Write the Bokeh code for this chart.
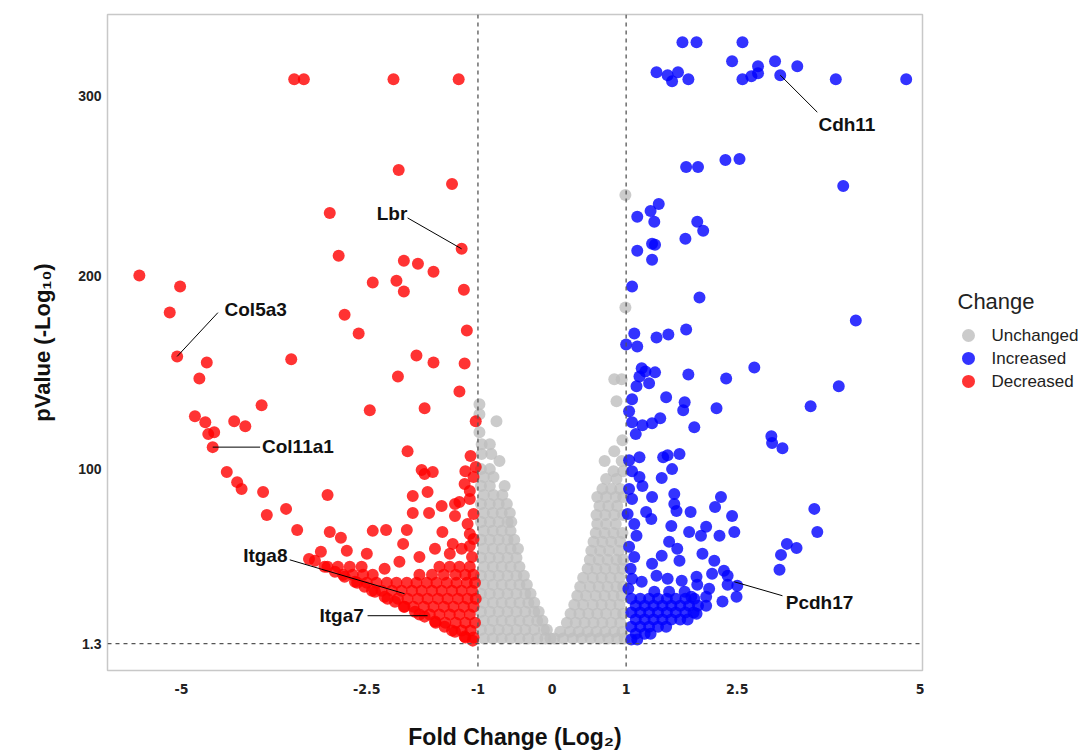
from bokeh.plotting import figure
from bokeh.models import Span, FixedTicker, Range1d
from bokeh.layouts import row
from bokeh.embed import file_html
from bokeh.resources import INLINE
from bokeh.core.properties import value

# ---------------- data (log2 fold change, -log10 p) ----------------
decreased = [
    (-3.48, 309.2), (-3.35, 309.2), (-2.14, 309.2), (-1.26, 309.2), (-2.07, 259.8), (-1.35, 252.1),
    (-3.00, 236.3), (-1.22, 216.7), (-2.88, 212.9), (-2.00, 210.2), (-1.81, 208.6), (-1.60, 204.2),
    (-5.57, 202.1), (-5.02, 196.1), (-5.16, 182.0), (-5.06, 158.0), (-4.66, 154.7), (-4.76, 146.0),
    (-3.52, 156.4), (-3.92, 131.3), (-4.82, 125.3), (-4.68, 122.1), (-4.56, 116.6), (-4.64, 115.6),
    (-4.58, 108.5), (-4.29, 122.6), (-4.14, 119.9), (-4.39, 94.9), (-4.25, 89.4), (-4.19, 85.6),
    (-2.42, 198.3), (-2.10, 199.3), (-2.00, 193.4), (-1.19, 194.4), (-2.80, 180.8), (-2.61, 170.5),
    (-1.15, 172.1), (-1.83, 158.5), (-1.60, 154.7), (-1.18, 154.2), (-2.08, 147.1), (-1.25, 138.9),
    (-2.46, 128.6), (-1.72, 129.7), (-1.03, 122.6), (-1.95, 106.3), (-1.10, 103.6), (-1.76, 96.0),
    (-1.72, 93.8), (-1.61, 94.9), (-1.17, 95.4), (-1.03, 97.6), (-3.90, 84.0), (-3.03, 82.4),
    (-3.85, 71.5), (-3.59, 74.8), (-3.44, 63.3), (-3.00, 62.2), (-2.85, 59.0), (-2.42, 62.8),
    (-2.24, 63.3), (-1.96, 63.3), (-2.01, 55.7), (-1.88, 81.8), (-1.68, 84.0), (-1.49, 76.4),
    (-1.88, 72.6), (-1.66, 72.6), (-1.31, 70.9), (-1.25, 78.6), (-1.11, 84.5), (-1.48, 62.2),
    (-1.34, 55.7), (-1.11, 61.1), (-1.11, 54.6), (-3.12, 51.4), (-3.28, 47.5), (-2.77, 51.9),
    (-2.50, 50.3),
    (-1.11, 80.2), (-1.06, 72.0), (-1.14, 66.6), (-1.06, 58.4), (-1.22, 53.0), (-1.08, 48.6),
    (-1.38, 50.3), (-1.58, 53.0), (-1.79, 48.6), (-2.06, 45.9), (-2.26, 42.1), (-1.31, 77.5),
    (-1.18, 88.4), (-1.06, 92.2),
    (-3.20, 46.5), (-3.07, 43.2), (-2.93, 40.5), (-2.80, 37.8), (-2.66, 35.0), (-2.53, 32.3),
    (-2.39, 29.6), (-2.26, 26.9), (-2.12, 24.1), (-1.99, 21.4), (-1.85, 18.7), (-1.72, 16.0),
    (-1.58, 13.3), (-1.45, 10.5), (-1.31, 7.8), (-1.18, 5.1), (-1.07, 2.9),
    (-3.03, 43.2), (-2.89, 43.2), (-2.73, 43.2), (-2.57, 43.2), (-1.52, 43.2), (-1.38, 43.2),
    (-1.25, 43.2), (-1.11, 43.2),
    (-2.82, 38.8), (-2.69, 38.8), (-2.55, 38.8), (-2.42, 38.8), (-1.79, 38.8), (-1.62, 38.8),
    (-1.46, 38.8), (-1.30, 38.8), (-1.17, 38.8), (-1.06, 38.8),
    (-2.63, 34.5), (-2.50, 34.5), (-2.37, 34.5), (-2.23, 34.5), (-2.10, 34.5), (-1.96, 34.5),
    (-1.83, 34.5), (-1.69, 34.5), (-1.56, 34.5), (-1.42, 34.5), (-1.29, 34.5), (-1.15, 34.5),
    (-1.04, 34.5),
    (-2.43, 30.1), (-2.30, 30.1), (-2.16, 30.1), (-2.03, 30.1), (-1.89, 30.1), (-1.76, 30.1),
    (-1.62, 30.1), (-1.49, 30.1), (-1.35, 30.1), (-1.22, 30.1), (-1.08, 30.1),
    (-2.22, 25.8), (-2.08, 25.8), (-1.95, 25.8), (-1.81, 25.8), (-1.68, 25.8), (-1.54, 25.8),
    (-1.41, 25.8), (-1.27, 25.8), (-1.14, 25.8), (-1.03, 25.8),
    (-2.00, 21.4), (-1.87, 21.4), (-1.73, 21.4), (-1.60, 21.4), (-1.46, 21.4), (-1.33, 21.4),
    (-1.19, 21.4), (-1.06, 21.4),
    (-1.79, 17.1), (-1.65, 17.1), (-1.52, 17.1), (-1.38, 17.1), (-1.25, 17.1), (-1.11, 17.1),
    (-1.57, 12.7), (-1.44, 12.7), (-1.30, 12.7), (-1.17, 12.7), (-1.04, 12.7),
    (-1.35, 8.4), (-1.22, 8.4), (-1.10, 8.4),
    (-1.17, 4.6), (-1.06, 4.6),
]

increased = [
    (1.76, 329.4), (1.95, 329.4), (2.57, 329.4), (2.43, 319.1), (2.78, 316.3), (3.01, 319.1),
    (3.31, 316.3), (1.41, 313.1), (1.56, 311.5), (1.70, 313.1), (1.62, 308.2), (1.84, 309.2),
    (2.57, 309.2), (2.69, 310.9), (2.78, 312.5), (3.08, 311.5), (3.83, 309.2), (4.78, 309.2),
    (1.81, 261.4), (1.97, 261.4), (2.34, 265.2), (2.53, 265.7), (3.93, 251.0), (1.44, 241.2),
    (1.33, 237.4), (1.15, 234.2), (1.38, 231.5), (1.96, 231.5), (2.04, 226.6), (1.80, 222.2),
    (1.35, 219.5), (1.39, 218.9), (1.15, 215.7), (1.35, 210.8), (1.08, 196.1), (1.99, 190.1),
    (4.10, 177.6), (1.11, 170.5), (1.41, 168.3), (1.57, 170.0), (1.81, 172.7), (1.00, 164.5),
    (1.15, 163.4), (1.21, 151.5), (1.26, 149.8), (1.39, 149.3), (1.18, 147.1), (1.14, 141.7),
    (1.31, 143.3), (1.84, 148.2), (2.35, 146.0), (2.73, 152.0), (3.87, 141.7), (1.08, 134.6),
    (1.04, 128.1), (1.54, 135.7), (1.79, 133.0), (1.77, 128.6), (2.22, 129.7), (3.49, 130.8),
    (1.08, 122.1), (1.22, 120.5), (1.35, 121.5), (1.46, 124.3), (1.92, 119.4), (1.13, 115.6),
    (2.96, 114.5), (2.97, 110.7), (3.11, 107.9), (1.04, 101.4), (1.18, 103.0), (1.50, 103.0),
    (1.56, 104.1), (1.72, 104.7), (1.62, 96.5), (1.08, 95.4), (1.18, 92.2), (1.48, 91.6),
    (1.22, 87.3), (1.08, 80.2), (1.35, 81.3), (1.65, 82.9), (1.65, 77.5), (1.68, 73.7),
    (1.87, 73.1), (2.20, 75.8), (2.28, 81.3), (2.43, 70.9), (1.27, 73.1), (1.34, 69.3),
    (1.11, 66.6), (1.61, 65.5), (1.85, 62.2), (2.08, 65.0), (2.01, 60.1), (2.26, 60.1),
    (2.46, 62.2), (1.14, 60.1), (3.54, 74.8), (3.58, 62.2), (3.17, 55.7), (3.30, 53.5),
    (3.09, 49.7), (3.07, 41.6), (1.58, 56.8), (1.69, 53.0), (1.48, 49.2), (1.35, 44.8),
    (1.11, 48.6), (1.72, 46.5), (2.03, 50.3), (2.19, 46.5), (2.32, 41.0), (2.16, 39.4),
    (1.95, 37.8), (2.37, 38.3), (2.50, 32.9), (2.37, 33.4), (2.12, 31.2), (1.96, 33.4),
    (1.75, 35.6), (1.56, 36.7), (1.41, 38.3), (1.21, 35.0), (1.08, 36.7), (1.38, 29.6),
    (1.58, 29.6), (1.79, 29.6), (1.88, 26.9), (2.08, 26.9), (2.30, 24.2), (2.49, 26.9),
    (2.08, 22.0), (1.95, 17.6),
    (1.04, 85.6), (1.02, 72.0), (1.04, 54.1), (1.06, 42.1), (1.03, 31.2),
    (1.07, 25.8), (1.19, 25.8), (1.31, 25.8), (1.43, 25.8), (1.55, 25.8), (1.67, 25.8),
    (1.80, 25.8), (1.92, 25.8),
    (1.13, 22.0), (1.25, 22.0), (1.37, 22.0), (1.49, 22.0), (1.61, 22.0), (1.73, 22.0),
    (1.85, 22.0), (1.97, 22.0),
    (1.07, 18.2), (1.19, 18.2), (1.31, 18.2), (1.43, 18.2), (1.55, 18.2), (1.67, 18.2),
    (1.80, 18.2), (1.91, 18.2),
    (1.13, 14.4), (1.25, 14.4), (1.37, 14.4), (1.49, 14.4), (1.61, 14.4), (1.73, 14.4),
    (1.83, 14.4),
    (1.07, 10.5), (1.19, 10.5), (1.31, 10.5), (1.43, 10.5), (1.54, 10.5),
    (1.13, 6.7), (1.25, 6.7), (1.33, 6.7),
    (1.07, 3.5), (1.15, 3.5),
]

unchanged = [
    (-0.98, 131.9), (-0.98, 126.4), (-0.75, 122.6), (-0.98, 116.6),
    (-0.95, 110.1), (-0.84, 110.1), (-0.95, 104.7), (-0.82, 104.7), (-0.71, 100.9),
    (-0.96, 96.5), (-0.84, 96.5), (-0.92, 92.2), (-0.79, 92.2),
    (-0.96, 87.3), (-0.84, 87.3), (-0.64, 87.3), (-0.92, 82.4), (-0.79, 82.4), (-0.67, 82.4),
    (-0.96, 77.5), (-0.84, 77.5), (-0.72, 77.5), (-0.61, 77.5),
    (-0.92, 72.6), (-0.80, 72.6), (-0.68, 72.6), (-0.57, 72.6),
    (-0.96, 67.7), (-0.84, 67.7), (-0.72, 67.7), (-0.60, 67.7), (-0.55, 67.7),
    (-0.92, 62.8), (-0.80, 62.8), (-0.68, 62.8), (-0.56, 62.8),
    (-0.96, 57.9), (-0.84, 57.9), (-0.72, 57.9), (-0.60, 57.9), (-0.51, 57.9),
    (-0.92, 53.0), (-0.80, 53.0), (-0.68, 53.0), (-0.56, 53.0), (-0.46, 53.0),
    (-0.96, 48.1), (-0.84, 48.1), (-0.72, 48.1), (-0.60, 48.1), (-0.48, 48.1),
    (-0.92, 43.2), (-0.80, 43.2), (-0.68, 43.2), (-0.56, 43.2), (-0.44, 43.2),
    (-0.96, 38.3), (-0.84, 38.3), (-0.72, 38.3), (-0.60, 38.3), (-0.48, 38.3), (-0.38, 38.3),
    (-0.92, 33.4), (-0.80, 33.4), (-0.68, 33.4), (-0.56, 33.4), (-0.44, 33.4), (-0.34, 33.4),
    (-0.96, 28.5), (-0.84, 28.5), (-0.72, 28.5), (-0.60, 28.5), (-0.48, 28.5), (-0.36, 28.5),
    (-0.29, 28.5),
    (-0.92, 23.6), (-0.80, 23.6), (-0.68, 23.6), (-0.56, 23.6), (-0.44, 23.6), (-0.32, 23.6),
    (-0.24, 23.6),
    (-0.96, 18.7), (-0.84, 18.7), (-0.72, 18.7), (-0.60, 18.7), (-0.48, 18.7), (-0.36, 18.7),
    (-0.24, 18.7), (-0.18, 18.7),
    (-0.92, 13.8), (-0.80, 13.8), (-0.68, 13.8), (-0.56, 13.8), (-0.44, 13.8), (-0.32, 13.8),
    (-0.20, 13.8), (-0.13, 13.8),
    (-0.96, 8.9), (-0.84, 8.9), (-0.72, 8.9), (-0.60, 8.9), (-0.48, 8.9), (-0.36, 8.9),
    (-0.24, 8.9), (-0.11, 8.9), (-0.07, 8.9),
    (-0.92, 4.0), (-0.80, 4.0), (-0.68, 4.0), (-0.56, 4.0), (-0.44, 4.0), (-0.32, 4.0),
    (-0.20, 4.0), (-0.09, 4.0), (-0.02, 4.0),
    (0.99, 246.1), (0.99, 184.7), (0.84, 145.5), (0.94, 145.5), (0.87, 133.5), (0.95, 112.3),
    (0.84, 106.3), (0.71, 100.9), (0.94, 100.9), (0.83, 95.4), (0.96, 95.4),
    (0.73, 91.1), (0.87, 91.1), (0.68, 85.6), (0.80, 85.6), (0.92, 85.6),
    (0.61, 81.3), (0.73, 81.3), (0.86, 81.3), (0.96, 81.3),
    (0.64, 76.4), (0.76, 76.4), (0.88, 76.4),
    (0.60, 71.5), (0.72, 71.5), (0.84, 71.5), (0.96, 71.5),
    (0.61, 66.6), (0.73, 66.6), (0.86, 66.6),
    (0.59, 61.7), (0.71, 61.7), (0.83, 61.7), (0.95, 61.7),
    (0.56, 56.8), (0.68, 56.8), (0.80, 56.8), (0.92, 56.8),
    (0.53, 51.9), (0.65, 51.9), (0.77, 51.9), (0.90, 51.9),
    (0.51, 47.0), (0.63, 47.0), (0.75, 47.0), (0.87, 47.0), (0.96, 47.0),
    (0.48, 42.1), (0.60, 42.1), (0.72, 42.1), (0.84, 42.1), (0.95, 42.1),
    (0.42, 37.2), (0.55, 37.2), (0.67, 37.2), (0.79, 37.2), (0.91, 37.2),
    (0.38, 32.3), (0.51, 32.3), (0.63, 32.3), (0.75, 32.3), (0.87, 32.3), (0.96, 32.3),
    (0.34, 27.4), (0.46, 27.4), (0.59, 27.4), (0.71, 27.4), (0.83, 27.4), (0.94, 27.4),
    (0.30, 22.5), (0.42, 22.5), (0.55, 22.5), (0.67, 22.5), (0.79, 22.5), (0.91, 22.5),
    (0.25, 17.6), (0.37, 17.6), (0.49, 17.6), (0.61, 17.6), (0.73, 17.6), (0.86, 17.6),
    (0.96, 17.6),
    (0.20, 12.7), (0.32, 12.7), (0.44, 12.7), (0.56, 12.7), (0.68, 12.7), (0.80, 12.7),
    (0.92, 12.7),
    (0.11, 7.8), (0.24, 7.8), (0.36, 7.8), (0.48, 7.8), (0.60, 7.8), (0.72, 7.8),
    (0.84, 7.8), (0.95, 7.8),
    (0.03, 4.0), (0.15, 4.0), (0.28, 4.0), (0.40, 4.0), (0.52, 4.0), (0.64, 4.0),
    (0.76, 4.0), (0.88, 4.0), (0.98, 4.0),
]

genes = ["Cdh11", "Lbr", "Col5a3", "Col11a1", "Itga8", "Itga7", "Pcdh17"]
gene_fc = [3.08, -1.22, -5.06, -4.58, -1.99, -1.68, 2.46]
gene_p = [311.5, 216.7, 158.0, 108.5, 28.5, 16.5, 35.0]

x_ticks = [-5, -2.5, -1, 0, 1, 2.5, 5]
x_tick_labels = ["-5", "-2.5", "-1", "0", "1", "2.5", "5"]
y_tick_labels = ["1.3", "100", "200", "300"]
groups = ["Unchanged", "Increased", "Decreased"]
group_colors = ["#bebebe", "#0000ff", "#ff0000"]
fc_cut = 1
p_cut = 1.3

H = 752
LW = 158
TOP, BOTTOM = 14, 80

# ---------------- main figure ----------------
p = figure(width=924, height=H, x_range=(-6.0, 5.0), y_range=(-13.4, 344.6),
           output_backend="svg", toolbar_location=None,
           min_border_left=107, min_border_right=2, min_border_top=TOP, min_border_bottom=BOTTOM)
p.grid.visible = False
p.outline_line_color = "#c8c8c8"
p.outline_line_width = 1.5
p.background_fill_color = "white"
p.border_fill_color = "white"

def split(pairs):
    return [a for a, b in pairs], [b for a, b in pairs]

for pairs, col in zip((unchanged, increased, decreased), group_colors):
    xs, ys = split(pairs)
    p.scatter(xs, ys, size=12, fill_color=col, line_color=None, fill_alpha=0.8)

for loc in (-fc_cut, fc_cut):
    p.add_layout(Span(location=loc, dimension="height", line_color="#555555",
                      line_dash="4 4", line_width=1.3))
p.add_layout(Span(location=p_cut, dimension="width", line_color="#555555",
                  line_dash="4 4", line_width=1.3))

# gene labels with leader lines (label placement in data units)
label_x = [3.98, -2.16, -4.00, -3.43, -3.87, -2.84, 3.61]
label_y = [284.8, 235.8, 183.6, 109.0, 49.2, 16.5, 23.6]
line_x0 = [3.58, -1.95, -4.51, -3.94, -3.54, -2.49, 3.11]
line_y0 = [291.3, 233.6, 181.9, 108.5, 47.0, 16.5, 27.4]
p.segment(line_x0, line_y0, gene_fc, gene_p, line_color="black", line_width=1)
p.text(label_x, label_y, text=genes, text_font=value("Liberation Sans"),
       text_font_style="bold", text_font_size="19px", text_align="center",
       text_baseline="middle", text_color="#111111")

# axes
p.xaxis.ticker = FixedTicker(ticks=x_ticks)
p.xaxis.major_label_overrides = {t: l for t, l in zip(x_ticks, x_tick_labels)}
y_pos = [1.3, 96.5, 202.1, 300.0]
p.yaxis.ticker = FixedTicker(ticks=y_pos)
p.yaxis.major_label_overrides = {t: l for t, l in zip(y_pos, y_tick_labels)}
for ax in (p.xaxis[0], p.yaxis[0]):
    ax.axis_line_color = None
    ax.major_tick_line_color = None
    ax.minor_tick_line_color = None
    ax.major_label_text_font_style = "bold"
    ax.major_label_text_font_size = "14px"
    ax.major_label_text_color = "#222222"
    ax.axis_label_text_font = "Liberation Sans"
    ax.axis_label_text_font_style = "bold"
    ax.axis_label_text_color = "#111111"
p.xaxis.major_label_text_font = "'Liberation Sans Narrow', 'DejaVu Sans Condensed', 'Liberation Sans'"
p.yaxis.major_label_text_font = "Liberation Sans"
p.xaxis.axis_label = "Fold Change (Log\u2082)"
p.yaxis.axis_label = "pValue (-Log\u2081\u2080)"
p.xaxis.axis_label_text_font_size = "23px"
p.yaxis.axis_label_text_font_size = "22px"
p.xaxis.major_label_standoff = 7
p.yaxis.major_label_standoff = 0
p.xaxis.axis_label_standoff = 27
p.yaxis.axis_label_standoff = 20

# ---------------- legend panel (page-pixel coordinates, y downward) ----------------
pl = figure(width=LW, height=H, x_range=Range1d(0, LW), y_range=Range1d(H - BOTTOM, TOP),
            output_backend="svg", toolbar_location=None,
            x_axis_location=None, y_axis_location=None,
            min_border_left=0, min_border_right=0, min_border_top=TOP, min_border_bottom=BOTTOM)
pl.grid.visible = False
pl.outline_line_color = None
pl.background_fill_color = "white"
pl.border_fill_color = "white"

title_x, title_y = 33, 302
key_x, text_x, first_y, step = 44, 67, 336, 23
pl.text([title_x], [title_y], text=["Change"], text_font=value("Liberation Sans"),
        text_font_size="22px", text_color="#222222", text_align="left", text_baseline="middle")
ys = [first_y + i * step for i in range(len(groups))]
pl.scatter([key_x] * len(groups), ys, size=13, fill_color=group_colors,
           line_color=None, fill_alpha=0.8)
pl.text([text_x] * len(groups), ys, text=groups, text_font=value("Liberation Sans"),
        text_font_size="17px", text_color="#222222", text_align="left", text_baseline="middle")

layout = row(p, pl)
open("out.html", "w").write(file_html(layout, INLINE))
